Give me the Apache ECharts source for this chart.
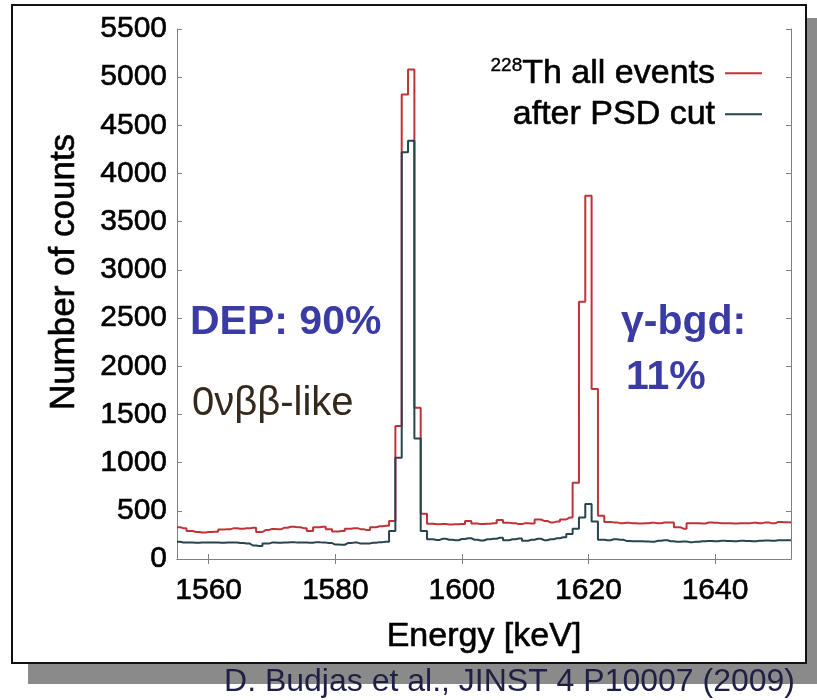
<!DOCTYPE html>
<html>
<head>
<meta charset="utf-8">
<script src="https://cdn.jsdelivr.net/npm/echarts@6/dist/echarts.min.js"></script>
<style>
html,body{margin:0;padding:0;background:#fff;}
#chart{width:817px;height:700px;}
</style>
</head>
<body>
<div id="chart"></div>
<script>
// Bin centres (keV)
const energy = [1555,1556,1557,1558,1559,1560,1561,1562,1563,1564,
1565,1566,1567,1568,1569,1570,1571,1572,1573,1574,
1575,1576,1577,1578,1579,1580,1581,1582,1583,1584,
1585,1586,1587,1588,1589,1590,1591,1592,1593,1594,
1595,1596,1597,1598,1599,1600,1601,1602,1603,1604,
1605,1606,1607,1608,1609,1610,1611,1612,1613,1614,
1615,1616,1617,1618,1619,1620,1621,1622,1623,1624,
1625,1626,1627,1628,1629,1630,1631,1632,1633,1634,
1635,1636,1637,1638,1639,1640,1641,1642,1643,1644,
1645,1646,1647,1648,1649,1650,1651,1652];

// 228Th all events
const allEvents = [330,320,290,280,275,280,282,305,310,320,
315,318,325,280,300,312,310,325,335,330,
320,290,330,335,310,285,290,315,320,310,
300,330,340,345,395,1380,4820,5080,1570,470,
365,360,362,358,360,362,395,368,362,365,
370,405,375,370,362,372,368,410,395,380,
388,410,430,790,2670,3770,1765,450,385,380,
372,375,370,368,372,375,370,378,380,330,
315,370,372,368,378,375,370,372,368,372,
370,375,372,380,370,385,382,380];

// after PSD cut
const afterPSD = [180,172,170,168,170,172,170,168,170,172,
165,160,140,135,160,170,168,172,175,170,
172,168,175,170,165,150,148,165,170,160,
162,168,175,180,290,1050,4220,4340,1250,290,
205,198,210,200,195,208,215,200,192,205,
210,220,195,205,212,190,200,210,195,205,
215,225,260,315,430,570,390,200,195,205,
200,188,185,185,182,180,190,195,185,178,
182,175,180,185,188,185,190,188,185,190,
188,185,190,192,190,195,195,195];

const xTicks = [1560,1580,1600,1620,1640];
const seriesNames = ['228Th all events','after PSD cut'];

const FONT = '"Liberation Sans", Arial, Helvetica, sans-serif';
const RED = '#bf3338';
const BLUE = '#27454f';
const AXIS = '#808080';
const THICK = {textBorderColor:'#000', textBorderWidth:0.6};

const chart = echarts.init(document.getElementById('chart'), null, {renderer:'canvas'});

const pairs = (ys) => energy.map((e,i)=>[e, ys[i]]);
const plain = (v) => String(v);

const legendCommon = {
  orient:'vertical', right:55, align:'right', icon:'rect',
  itemWidth:37, itemHeight:2, padding:0,
  formatter: function(name){
    return name === seriesNames[0] ? '{sup|228}{t|Th all events}' : '{t|after PSD cut}';
  },
  textStyle:{
    rich:{
      sup:Object.assign({fontSize:19, fontFamily:FONT, color:'#000', verticalAlign:'top', lineHeight:34}, {textBorderColor:'#000', textBorderWidth:0.4}),
      t:Object.assign({fontSize:34, fontFamily:FONT, color:'#000', lineHeight:34, padding:[0,5,0,0]}, THICK)
    }
  }
};

const option = {
  animation:false,
  backgroundColor:'transparent',
  grid:{left:177, right:26, top:29, bottom:141, containLabel:false},
  legend:[
    Object.assign({}, legendCommon, {top:56, data:[seriesNames[0]]}),
    Object.assign({}, legendCommon, {top:97, data:[seriesNames[1]]})
  ],
  xAxis:[{
    type:'value', min:1555, max:1652, position:'bottom',
    axisLine:{show:true, lineStyle:{color:AXIS, width:1}},
    axisTick:{show:true, inside:true, length:5, customValues:xTicks, lineStyle:{color:AXIS}},
    axisLabel:Object.assign({customValues:xTicks, fontSize:30, fontFamily:FONT, color:'#000', margin:17, formatter:plain}, THICK),
    splitLine:{show:false}
  },{
    type:'value', min:1555, max:1652, position:'top',
    axisLine:{show:true, lineStyle:{color:AXIS, width:1}},
    axisTick:{show:true, inside:true, length:5, customValues:xTicks, lineStyle:{color:AXIS}},
    axisLabel:{show:false},
    splitLine:{show:false}
  }],
  yAxis:[{
    type:'value', min:0, max:5500, interval:500, position:'left',
    axisLine:{show:true, lineStyle:{color:AXIS, width:1}},
    axisTick:{show:true, inside:true, length:5, lineStyle:{color:AXIS}},
    axisLabel:Object.assign({fontSize:30, fontFamily:FONT, color:'#000', margin:10, formatter:plain}, THICK),
    splitLine:{show:false}
  },{
    type:'value', min:0, max:5500, interval:500, position:'right',
    axisLine:{show:true, lineStyle:{color:AXIS, width:1}},
    axisTick:{show:true, inside:true, length:5, lineStyle:{color:AXIS}},
    axisLabel:{show:false},
    splitLine:{show:false}
  }],
  series:[{
    name:seriesNames[0], type:'line', step:'middle', showSymbol:false,
    data:pairs(allEvents), xAxisIndex:0, yAxisIndex:0,
    lineStyle:{color:RED, width:2}, itemStyle:{color:RED}, z:3
  },{
    name:seriesNames[1], type:'line', step:'middle', showSymbol:false,
    data:pairs(afterPSD), xAxisIndex:0, yAxisIndex:0,
    lineStyle:{color:BLUE, width:2}, itemStyle:{color:BLUE}, z:4
  }],
  graphic:[
    {type:'rect', z:-100, shape:{x:28, y:18, width:789, height:666}, style:{fill:'#8a8a8a'}},
    {type:'rect', z:-99, shape:{x:12, y:5, width:794, height:658}, style:{fill:'#fff', stroke:'#111', lineWidth:2}},
    {type:'text', z:10, x:64, y:272, rotation:Math.PI/2,
      style:Object.assign({text:'Number of counts', fontSize:35, fontFamily:FONT, fill:'#000', align:'center', verticalAlign:'middle'}, {stroke:'#000', lineWidth:0.6})},
    {type:'text', z:10, x:484, y:637,
      style:Object.assign({text:'Energy [keV]', fontSize:34, fontFamily:FONT, fill:'#000', align:'center', verticalAlign:'middle'}, {stroke:'#000', lineWidth:0.6})},
    {type:'text', z:10, x:190, y:323,
      style:{text:'DEP: 90%', fontSize:41, fontWeight:'bold', fontFamily:FONT, fill:'#3b3ba6', align:'left', verticalAlign:'middle'}},
    {type:'text', z:10, x:192, y:404,
      style:{text:'0νββ-like', fontSize:40, fontFamily:FONT, fill:'#35291d', align:'left', verticalAlign:'middle'}},
    {type:'text', z:10, x:621, y:323,
      style:{text:'γ-bgd:', fontSize:41, fontWeight:'bold', fontFamily:FONT, fill:'#3b3ba6', align:'left', verticalAlign:'middle'}},
    {type:'text', z:10, x:626, y:378,
      style:{text:'11%', fontSize:41, fontWeight:'bold', fontFamily:FONT, fill:'#3b3ba6', align:'left', verticalAlign:'middle'}},
    {type:'text', z:10, x:795, y:682,
      style:{text:'D. Budjas et al., JINST 4 P10007 (2009)', fontSize:32, fontFamily:FONT, fill:'#1f1f45', align:'right', verticalAlign:'middle'}}
  ]
};

chart.setOption(option);
</script>
</body>
</html>
